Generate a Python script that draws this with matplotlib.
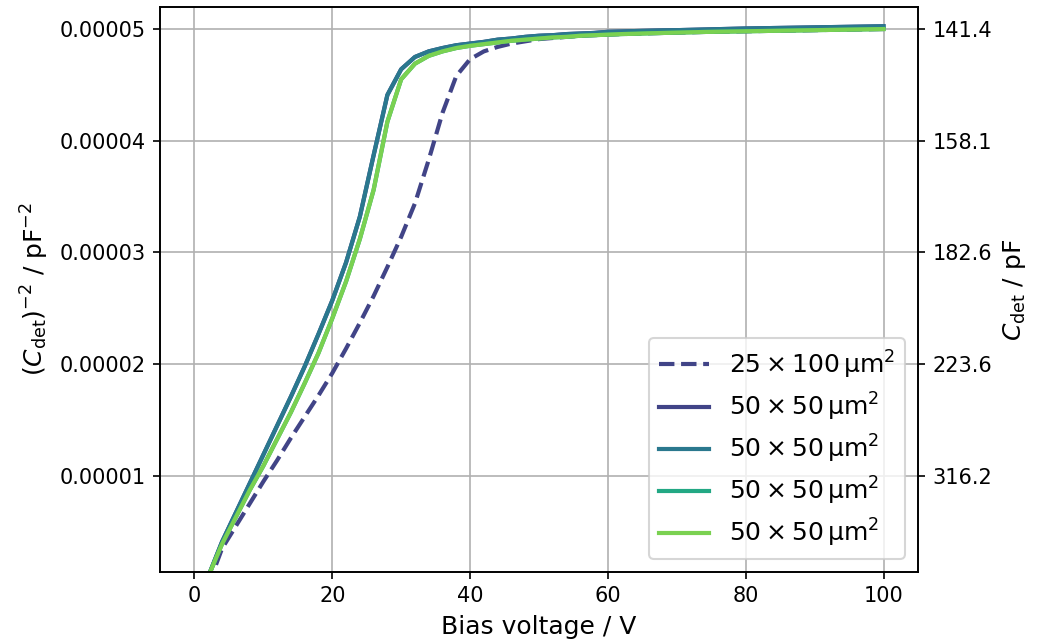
import matplotlib
matplotlib.use('Agg')
import matplotlib.pyplot as plt
import numpy as np
from matplotlib.ticker import FixedLocator, FormatStrFormatter, FixedFormatter

# bias voltage in V
voltage = [2, 4, 6, 8, 10, 12, 14, 16, 18, 20,
           22, 24, 26, 28, 30, 32, 34, 36, 38, 40,
           42, 44, 46, 48, 50, 52, 54, 56, 58, 60,
           62, 64, 66, 68, 70, 72, 74, 76, 78, 80,
           82, 84, 86, 88, 90, 92, 94, 96, 98, 100]

# 1/C^2 in units of 1e-5 pF^-2
pix_25x100 = [0.02, 0.35, 0.55, 0.75, 0.95, 1.14, 1.34, 1.53, 1.72, 1.92,
              2.14, 2.37, 2.61, 2.87, 3.14, 3.44, 3.83, 4.25, 4.58, 4.73,
              4.80, 4.84, 4.87, 4.89, 4.91, 4.92, 4.93, 4.94, 4.945, 4.95,
              4.955, 4.958, 4.962, 4.965, 4.968, 4.971, 4.974, 4.976, 4.978, 4.98,
              4.982, 4.984, 4.986, 4.988, 4.99, 4.992, 4.994, 4.996, 4.998, 5.00]

pix_50x50_a = [0.10, 0.41, 0.67, 0.93, 1.19, 1.45, 1.71, 1.98, 2.27, 2.57,
               2.91, 3.32, 3.87, 4.41, 4.64, 4.75, 4.80, 4.83, 4.855, 4.87,
               4.885, 4.905, 4.915, 4.93, 4.94, 4.945, 4.955, 4.96, 4.965, 4.975,
               4.978, 4.982, 4.985, 4.988, 4.99, 4.993, 4.996, 4.999, 5.002, 5.005,
               5.007, 5.009, 5.011, 5.013, 5.015, 5.017, 5.019, 5.021, 5.023, 5.025]

pix_50x50_b = [0.10, 0.41, 0.67, 0.93, 1.19, 1.45, 1.71, 1.98, 2.27, 2.57,
               2.91, 3.32, 3.87, 4.41, 4.64, 4.75, 4.80, 4.83, 4.855, 4.87,
               4.885, 4.905, 4.915, 4.93, 4.94, 4.945, 4.955, 4.96, 4.965, 4.975,
               4.978, 4.982, 4.985, 4.988, 4.99, 4.993, 4.996, 4.999, 5.002, 5.005,
               5.007, 5.009, 5.011, 5.013, 5.015, 5.017, 5.019, 5.021, 5.023, 5.025]

pix_50x50_c = [0.10, 0.39, 0.63, 0.87, 1.09, 1.33, 1.57, 1.83, 2.10, 2.41,
               2.74, 3.12, 3.56, 4.17, 4.55, 4.69, 4.76, 4.80, 4.83, 4.85,
               4.865, 4.88, 4.895, 4.905, 4.915, 4.925, 4.93, 4.94, 4.945, 4.95,
               4.955, 4.958, 4.962, 4.965, 4.968, 4.971, 4.974, 4.976, 4.978, 4.98,
               4.982, 4.984, 4.986, 4.988, 4.99, 4.992, 4.994, 4.996, 4.998, 5.00]

pix_50x50_d = [0.10, 0.39, 0.63, 0.87, 1.09, 1.33, 1.57, 1.83, 2.10, 2.41,
               2.74, 3.12, 3.56, 4.17, 4.55, 4.69, 4.76, 4.80, 4.83, 4.85,
               4.865, 4.88, 4.895, 4.905, 4.915, 4.925, 4.93, 4.94, 4.945, 4.95,
               4.955, 4.958, 4.962, 4.965, 4.968, 4.971, 4.974, 4.976, 4.978, 4.98,
               4.982, 4.984, 4.986, 4.988, 4.99, 4.992, 4.994, 4.996, 4.998, 5.00]

labels = [r'$25\times100\,\mathrm{μm}^2$',
          r'$50\times50\,\mathrm{μm}^2$',
          r'$50\times50\,\mathrm{μm}^2$',
          r'$50\times50\,\mathrm{μm}^2$',
          r'$50\times50\,\mathrm{μm}^2$']

yticks = [1e-5, 2e-5, 3e-5, 4e-5, 5e-5]

colors = plt.cm.viridis(np.linspace(0.2, 0.8, 4))

fig, ax = plt.subplots(figsize=(1039/150, 639/150), dpi=150)
fig.subplots_adjust(left=0.154, right=0.8835, top=0.989, bottom=0.105)

V = np.array(voltage)
ax.plot(V, np.array(pix_25x100)*1e-5, '--', color=colors[0], lw=2, label=labels[0])
series = [pix_50x50_a, pix_50x50_b, pix_50x50_c, pix_50x50_d]
for i, s in enumerate(series):
    ax.plot(V, np.array(s)*1e-5, '-', color=colors[i], lw=2, label=labels[i+1])

ax.set_xlim(-5, 105)
ax.set_ylim(1.41e-6, 5.197e-5)
ax.yaxis.set_major_locator(FixedLocator(yticks))
ax.yaxis.set_major_formatter(FormatStrFormatter('%.5f'))
ax.grid(True)
ax.set_xlabel('Bias voltage / V', fontsize=12)
ax.set_ylabel(r'$(C_\mathrm{det})^{-2}$ / pF$^{-2}$', fontsize=12)
ax.legend(loc='lower right', fontsize=12, labelspacing=0.4)

# second axis shows the capacitance itself
ax2 = ax.twinx()
ax2.set_ylim(ax.get_ylim())
ax2.yaxis.set_major_locator(FixedLocator(yticks))
ax2.yaxis.set_major_formatter(FixedFormatter(['%.1f' % (1/np.sqrt(t)) for t in yticks]))
ax2.set_ylabel(r'$C_\mathrm{det}$ / pF', fontsize=12)

fig.savefig('out.png', dpi=150)
